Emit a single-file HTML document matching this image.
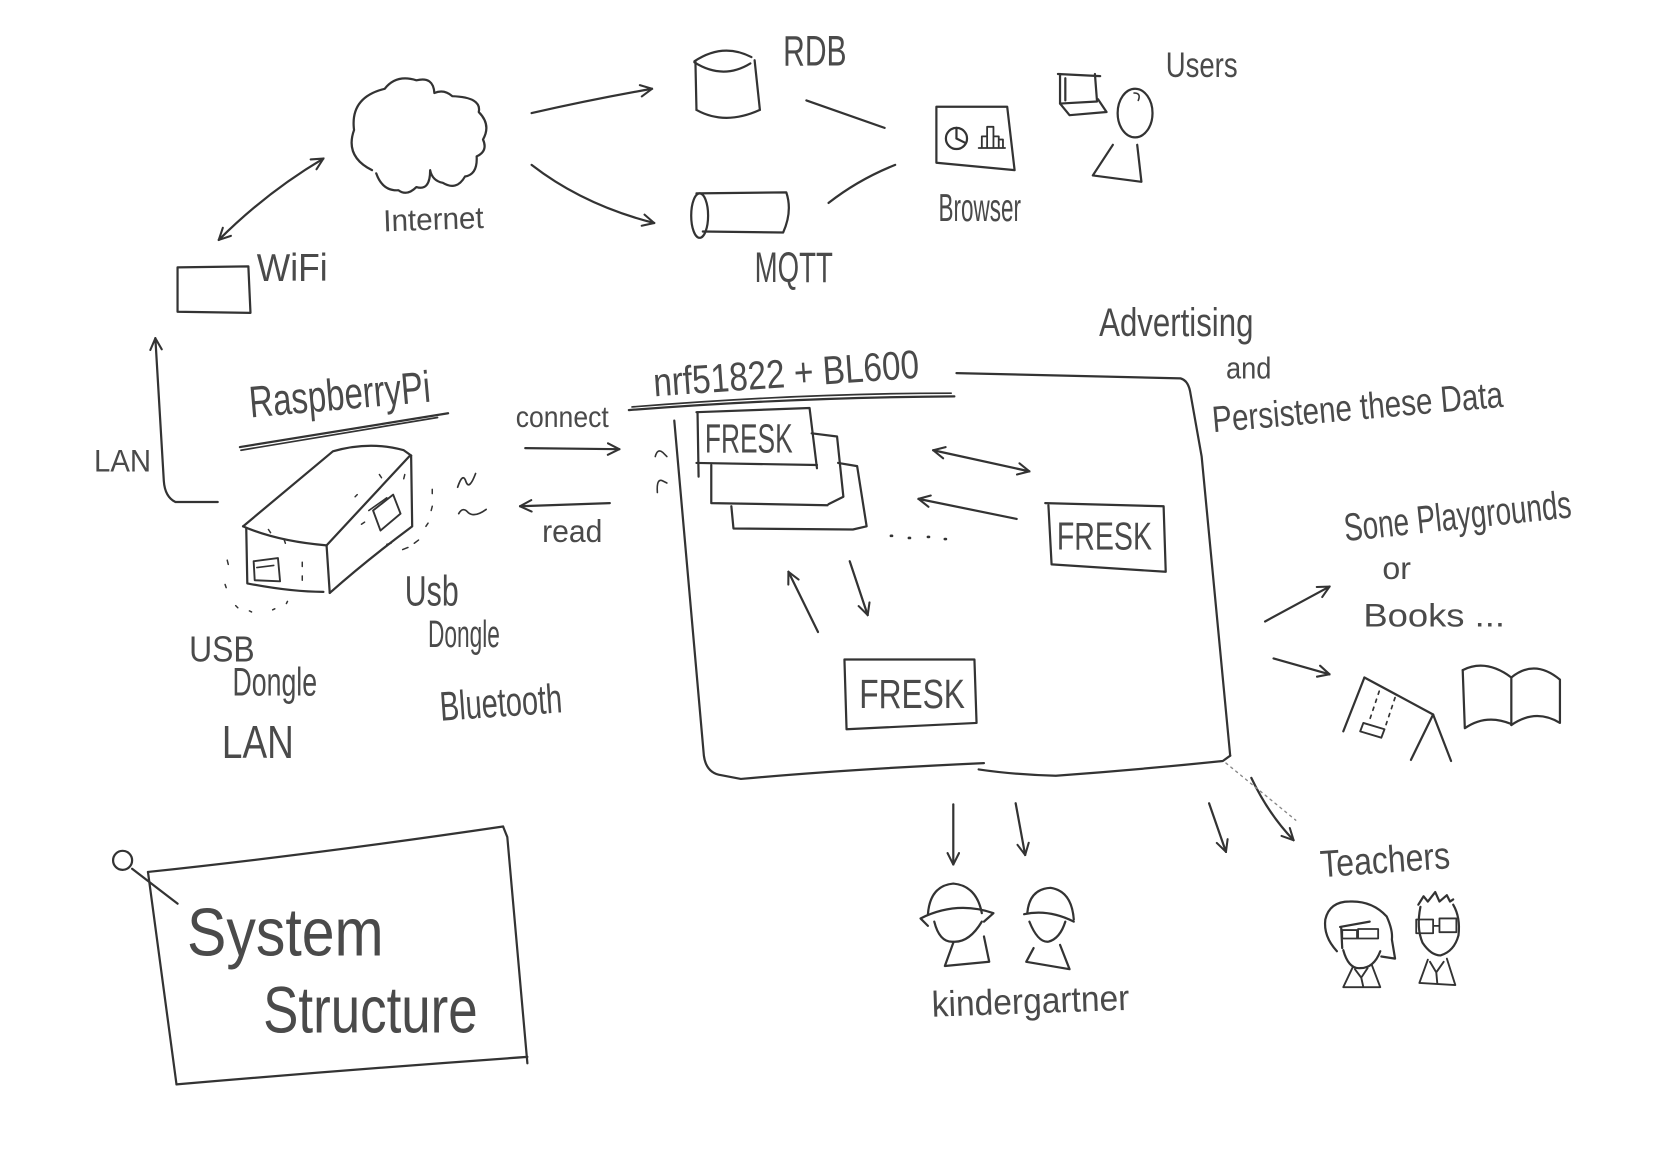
<!DOCTYPE html>
<html>
<head>
<meta charset="utf-8">
<style>
html,body{margin:0;padding:0;background:#fff;overflow:hidden;}
svg{display:block;}
text{font-family:"Liberation Sans",sans-serif;fill:#4a4a4a;}
</style>
</head>
<body>
<svg width="1654" height="1170" viewBox="0 0 1565 1107" preserveAspectRatio="none" xmlns="http://www.w3.org/2000/svg">
<defs>
<marker id="a" viewBox="0 0 12 12" refX="11" refY="6" markerWidth="13" markerHeight="13" orient="auto-start-reverse" markerUnits="userSpaceOnUse">
<path d="M1,1 L11,6 L1,11" fill="none" stroke="#333" stroke-width="1.8" stroke-linecap="round"/>
</marker>
</defs>
<rect x="0" y="0" width="1565" height="1107" fill="#fff"/>
<g fill="none" stroke="#333" stroke-width="2.1" stroke-linecap="round" stroke-linejoin="round">

<!-- Internet cloud -->
<path d="M352,161 Q326,148 335,123 Q331,92 364,84 Q375,70 394,76 Q410,72 411,88 Q420,84 428,91 Q456,92 453,106 Q465,118 457,132 Q462,143 451,148 Q452,165 440,167 Q432,181 419,173 Q409,171 407,161 Q407,181 394,177 Q385,186 377,180 Q362,181 356,164"/>

<!-- arrows top -->
<path d="M207,227 Q252,182 306,150" marker-end="url(#a)" marker-start="url(#a)"/>
<path d="M503,107 Q560,94 617,84" marker-end="url(#a)"/>
<path d="M503,156 Q552,194 619,211" marker-end="url(#a)"/>
<path d="M763,95 L837,121"/>
<path d="M847,156 Q812,170 784,192"/>

<!-- RDB cylinder -->
<path d="M657,58 Q684,40 711,54"/>
<path d="M657,59 Q684,76 710,60"/>
<path d="M658,58 L659,104"/>
<path d="M714,57 L719,104"/>
<path d="M659,104 Q686,119 719,104"/>

<!-- MQTT cylinder -->
<ellipse cx="662" cy="204" rx="8" ry="21"/>
<path d="M659,183 L744,182 Q750,200 741,220 L665,219"/>

<!-- Browser -->
<path d="M886,101 L953,101 L960,161 L886,154 Z"/>
<circle cx="905" cy="131" r="10"/>
<path d="M905,131 L905,121 M905,131 L913,135"/>
<path d="M926,140 L951,140 M929,140 V129 H934 V140 M934,140 V120 H940 V140 M940,140 V129 H945 V140 M945,140 V132 H949 V140" stroke-width="1.7"/>

<!-- laptop -->
<path d="M1001,70 L1041,72 M1003,70 L1003,98 L1038,96 L1036,70 M1008,74 L1008,95"/>
<path d="M1003,98 L1012,109 L1047,106 L1039,94"/>

<!-- user -->
<ellipse cx="1074" cy="107" rx="16.5" ry="23"/>
<path d="M1073,88 Q1080,88 1077,95" stroke-width="1.5"/>
<path d="M1053,137 L1034,166 L1080,172 L1076,137"/>

<!-- WiFi box -->
<path d="M168,253 L235,252 L237,296 L168,295 Z"/>

<!-- LAN arrow -->
<path d="M206,475 L166,475 Q156,470 155,455 L147,320" marker-end="url(#a)"/>

<!-- RaspberryPi underline -->
<path d="M227,423 L424,391"/>
<path d="M228,426 L414,395" stroke-width="1.6"/>

<!-- Raspberry Pi box -->
<path d="M230,498 L315,427 Q350,417 382,426 L389,431"/>
<path d="M388,431 L309,516"/>
<path d="M230,498 Q262,512 309,516"/>
<path d="M233,500 L234,552 Q275,560 306,560"/>
<path d="M309,516 L312,561"/>
<path d="M389,431 L390,498 Q347,530 312,561"/>
<path d="M240,531 L263,528 L265,550 L241,549 Z" stroke-width="1.8"/>
<path d="M243,537 L259,535" stroke-width="1.5"/>
<path d="M353,483 L372,468 L379,486 L360,502 Z" stroke-width="1.8"/>
<path d="M349,483 L366,471" stroke-width="1.5"/>
<g stroke-width="1.4">
<path d="M215,530 l1,4 M213,553 l1,3 M223,573 l2,2 M236,578 l2,1 M258,577 l2,-1 M271,571 l1,-2 M254,501 l2,3 M269,511 l1,3 M286,532 l0,4 M286,545 l0,4 M342,496 l3,-2 M359,449 l2,3 M366,515 l4,-1 M381,520 l5,-2 M392,514 l4,-3 M409,463 l0,4 M409,479 l-1,4 M405,495 l-2,3 M383,449 l-1,4 M336,470 l2,-2"/>
</g>
<!-- wave marks -->
<path d="M433,461 Q438,446 441,456 Q444,464 450,448" stroke-width="1.6"/>
<path d="M434,486 Q438,479 443,485 Q449,490 460,482" stroke-width="1.6"/>

<!-- connect / read arrows -->
<path d="M497,424 L586,425" marker-end="url(#a)"/>
<path d="M577,476 L492,479" marker-end="url(#a)"/>

<!-- nrf underline -->
<path d="M595,388 Q750,376 903,375"/>
<path d="M598,385 Q760,372 900,372" stroke-width="1.6"/>

<!-- container -->
<path d="M905,353 L1117,358 Q1124,360 1126,370 L1137,432 L1164,715"/>
<path d="M638,398 L666,715 Q668,730 680,733 L701,737 Q800,728 931,722"/>
<path d="M926,728 Q960,733 999,734 Q1080,728 1157,720 L1164,715"/>

<!-- squiggles left -->
<path d="M620,432 Q622,424 627,428 L631,432" stroke-width="1.5"/>
<path d="M622,466 Q621,452 627,455 L631,457" stroke-width="1.5"/>

<!-- stacked FRESK boxes -->
<path d="M659,390 L766,386 L773,443"/>
<path d="M773,440 L659,438"/>
<path d="M660,390 L661,451"/>
<path d="M768,410 L792,413 L798,470 L784,477 M783,478 L673,476 L673,440"/>
<path d="M793,438 L811,441 L820,498 L807,501 L694,500 L692,479"/>

<!-- arrows inside -->
<path d="M883,426 L974,446" marker-end="url(#a)" marker-start="url(#a)"/>
<path d="M962,491 L869,472" marker-end="url(#a)"/>
<path d="M774,598 L746,541" marker-end="url(#a)"/>
<path d="M804,531 L821,582" marker-end="url(#a)"/>
<path d="M843,507 l1,0 M860,509 l1,0 M878,508 l1,0 M894,510 l1,0" stroke-width="2.5"/>

<!-- right FRESK -->
<path d="M989,476 L1101,479 L1103,541 L995,534 L992,478"/>
<!-- bottom FRESK -->
<path d="M799,624 L922,624 L924,684 L801,690 Z"/>

<!-- playground arrows -->
<path d="M1197,588 L1258,555" marker-end="url(#a)"/>
<path d="M1205,623 L1258,638" marker-end="url(#a)"/>

<!-- swing -->
<path d="M1291,641 L1271,692"/>
<path d="M1291,641 L1356,676"/>
<path d="M1356,676 L1335,719 M1356,676 L1373,720"/>
<path d="M1305,654 L1296,681 M1320,660 L1310,690" stroke-dasharray="3 5" stroke-width="1.6"/>
<path d="M1290,684 L1310,690 L1307,698 L1287,692 Z" stroke-width="1.8"/>

<!-- book -->
<path d="M1384,634 Q1406,623 1430,641 L1430,686"/>
<path d="M1384,634 L1386,689 Q1406,675 1430,685"/>
<path d="M1430,641 Q1452,623 1476,643 L1476,684 Q1453,670 1430,686"/>

<!-- down arrows -->
<path d="M902,761 L902,818" marker-end="url(#a)"/>
<path d="M961,760 L970,809" marker-end="url(#a)"/>
<path d="M1144,760 L1160,806" marker-end="url(#a)"/>
<path d="M1184,736 Q1200,770 1224,795" marker-end="url(#a)"/>
<path d="M1160,722 L1226,776" stroke-dasharray="2 4" stroke-width="1.3" stroke="#888"/>

<!-- kindergartners -->
<path d="M878,865 Q880,838 902,836 Q924,838 929,864"/>
<path d="M878,876 L871,869 Q905,852 940,864 L931,872"/>
<path d="M884,872 Q889,892 902,891 Q917,892 929,872"/>
<path d="M902,892 L894,914 L936,910 L931,886"/>
<path d="M972,864 Q974,841 994,840 Q1014,843 1016,870"/>
<path d="M969,865 Q992,860 1016,872"/>
<path d="M974,872 Q982,892 992,891 Q1003,888 1008,872"/>
<path d="M978,897 L971,910 L1012,917 L1003,894"/>

<!-- teachers -->
<path d="M1265,900 Q1252,886 1254,870 Q1258,853 1277,853 Q1298,852 1312,867 Q1318,880 1317,889 L1320,907 L1307,905"/>
<path d="M1271,899 Q1276,917 1287,916 Q1300,916 1306,900"/>
<path d="M1268,877 L1296,872 M1269,877 L1270,897"/>
<path d="M1270,880 H1284 V888 H1270 Z M1285,879 H1304 V888 H1285 Z" stroke-width="1.7"/>
<path d="M1280,915 L1271,934 L1306,934 L1298,913 M1282,917 L1288,925 L1294,916 M1288,925 L1290,934" stroke-width="1.8"/>
<path d="M1342,856 L1347,848 L1351,853 L1358,844 L1362,853 L1369,847 L1372,853 L1375,851"/>
<path d="M1344,858 Q1340,878 1346,892 Q1354,904 1363,904 Q1376,900 1380,885 Q1382,868 1375,856"/>
<path d="M1340,870 H1356 V883 H1340 Z M1362,869 H1378 V882 H1362 Z M1356,876 H1362" stroke-width="1.7"/>
<path d="M1351,908 L1343,930 L1377,932 L1369,907 M1353,910 L1359,920 L1366,910 M1359,920 L1360,931" stroke-width="1.8"/>

<!-- System Structure box -->
<circle cx="116" cy="814" r="9"/>
<path d="M125,822 L168,855"/>
<path d="M140,825 Q300,808 476,782"/>
<path d="M476,782 L480,792 L499,1006"/>
<path d="M499,1000 Q330,1012 167,1026"/>
<path d="M167,1026 L140,825"/>
</g>

<!-- TEXT -->
<text x="741" y="62" font-size="40" textLength="60" lengthAdjust="spacingAndGlyphs">RDB</text>
<text x="1103" y="73" font-size="33" textLength="68" lengthAdjust="spacingAndGlyphs">Users</text>
<text x="363" y="219" font-size="29" textLength="95" lengthAdjust="spacingAndGlyphs" transform="rotate(-2 363 219)">Internet</text>
<text x="243" y="266" font-size="37" textLength="67" lengthAdjust="spacingAndGlyphs">WiFi</text>
<text x="714" y="267" font-size="40" textLength="74" lengthAdjust="spacingAndGlyphs">MQTT</text>
<text x="888" y="209" font-size="37" textLength="78" lengthAdjust="spacingAndGlyphs">Browser</text>
<text x="1040" y="318" font-size="38" textLength="146" lengthAdjust="spacingAndGlyphs">Advertising</text>
<text x="1160" y="358" font-size="29" textLength="43" lengthAdjust="spacingAndGlyphs">and</text>
<text x="1148" y="409" font-size="35" textLength="276" lengthAdjust="spacingAndGlyphs" transform="rotate(-5 1148 409)">Persistene these Data</text>
<text x="619" y="375" font-size="38" textLength="252" lengthAdjust="spacingAndGlyphs" transform="rotate(-4 619 375)">nrf51822 + BL600</text>
<text x="237" y="395" font-size="42" textLength="172" lengthAdjust="spacingAndGlyphs" transform="rotate(-5 237 395)">RaspberryPi</text>
<text x="488" y="404" font-size="28" textLength="88" lengthAdjust="spacingAndGlyphs">connect</text>
<text x="513" y="513" font-size="30" textLength="57" lengthAdjust="spacingAndGlyphs">read</text>
<text x="89" y="446" font-size="30" textLength="54" lengthAdjust="spacingAndGlyphs">LAN</text>
<text x="179" y="626" font-size="34" textLength="62" lengthAdjust="spacingAndGlyphs">USB</text>
<text x="220" y="658" font-size="38" textLength="80" lengthAdjust="spacingAndGlyphs">Dongle</text>
<text x="210" y="717" font-size="44" textLength="68" lengthAdjust="spacingAndGlyphs">LAN</text>
<text x="383" y="573" font-size="40" textLength="51" lengthAdjust="spacingAndGlyphs">Usb</text>
<text x="405" y="612" font-size="36" textLength="68" lengthAdjust="spacingAndGlyphs">Dongle</text>
<text x="417" y="682" font-size="39" textLength="116" lengthAdjust="spacingAndGlyphs" transform="rotate(-4 417 682)">Bluetooth</text>
<text x="667" y="428" font-size="39" textLength="83" lengthAdjust="spacingAndGlyphs">FRESK</text>
<text x="1000" y="520" font-size="37" textLength="90" lengthAdjust="spacingAndGlyphs">FRESK</text>
<text x="813" y="670" font-size="39" textLength="100" lengthAdjust="spacingAndGlyphs">FRESK</text>
<text x="1273" y="512" font-size="37" textLength="216" lengthAdjust="spacingAndGlyphs" transform="rotate(-6 1273 512)">Sone Playgrounds</text>
<text x="1308" y="548" font-size="30" textLength="27" lengthAdjust="spacingAndGlyphs">or</text>
<text x="1290" y="593" font-size="31" textLength="134" lengthAdjust="spacingAndGlyphs">Books ...</text>
<text x="1250" y="830" font-size="36" textLength="123" lengthAdjust="spacingAndGlyphs" transform="rotate(-4 1250 830)">Teachers</text>
<text x="882" y="962" font-size="34" textLength="187" lengthAdjust="spacingAndGlyphs" transform="rotate(-2 882 962)">kindergartner</text>
<text x="177" y="904" font-size="64" textLength="186" lengthAdjust="spacingAndGlyphs">System</text>
<text x="249" y="977" font-size="62" textLength="203" lengthAdjust="spacingAndGlyphs">Structure</text>
</svg>
</body>
</html>
